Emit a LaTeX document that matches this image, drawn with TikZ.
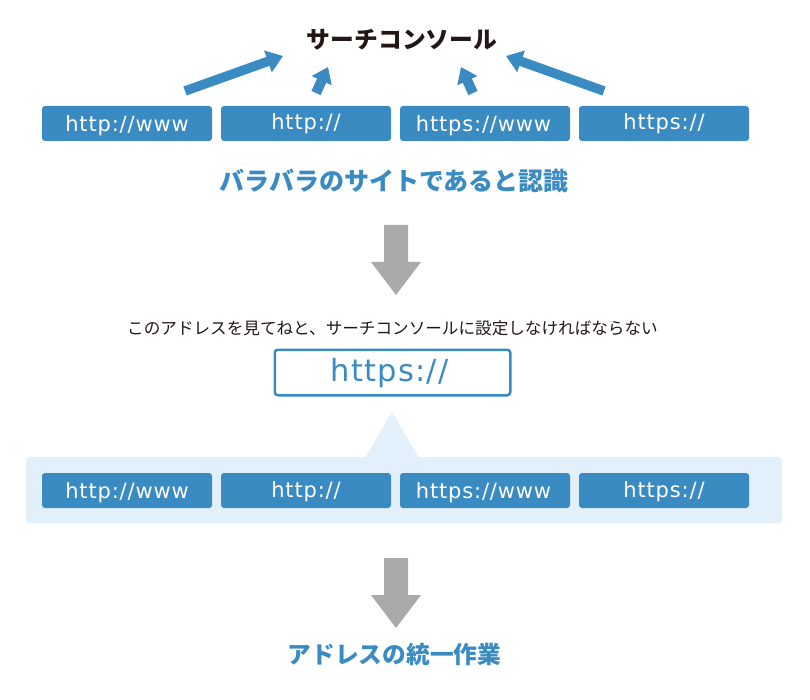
\documentclass[tikz,border=0pt]{standalone}
\usepackage{fontspec}
\setmainfont{Noto Sans CJK JP}
\newfontfamily\urlfont[LetterSpace=4]{DejaVu Sans}
\usetikzlibrary{arrows.meta}
\definecolor{bl}{HTML}{3A8BC2}
\definecolor{lb}{HTML}{E1F0FA}
\definecolor{gr}{HTML}{AAAAAA}
\definecolor{ink}{HTML}{231815}
\newcommand{\lowtxt}[1]{\raisebox{-1.5pt}{#1}}
\tikzset{
 urlbox/.style={fill=bl,rounded corners=3pt,minimum width=170pt,minimum height=35pt,inner sep=0pt,text=white,text height=18pt,text depth=5pt,font=\urlfont\fontsize{21}{24}\selectfont},
 fatarrow/.style={draw=bl,line width=9.5pt,-{Triangle[length=16pt,width=22pt]}},
 shortarrow/.style={draw=bl,line width=10pt,-{Triangle[length=15pt,width=21pt]}},
 bigarrow/.style={fill=gr,draw=none},
 head/.style={inner sep=0pt,text=bl,font=\bfseries\fontsize{25}{28}\selectfont},
}
\begin{document}
\begin{tikzpicture}[x=1pt,y=-1pt]
\useasboundingbox (0,0) rectangle (810,700);
\fill[white] (0,0) rectangle (810,700);
\node[inner sep=0pt,text=ink,font=\bfseries\fontsize{23.8}{28}\selectfont] (title) at (402,40) {サーチコンソール};
\node[urlbox] (a1) at (127,123.5) {\lowtxt{http://www}};
\node[urlbox] (a2) at (306,123.5) {http://};
\node[urlbox] (a3) at (485,123.5) {\lowtxt{https://www}\hspace*{3pt}};
\node[urlbox] (a4) at (664,123.5) {https://};
\coordinate (t1) at (185,91); \coordinate (h1) at (283,56);
\coordinate (t2) at (316,93); \coordinate (h2) at (328,67);
\coordinate (t3) at (473,93); \coordinate (h3) at (461,67);
\coordinate (t4) at (604,91); \coordinate (h4) at (506,56);
\draw[fatarrow] (t1) -- (h1);
\draw[shortarrow] (t2) -- (h2);
\draw[shortarrow] (t3) -- (h3);
\draw[fatarrow] (t4) -- (h4);
\node[head] (n1) at (394,181.5) {バラバラのサイトであると認識};
\fill[bigarrow] (384,225) -- (408,225) -- (408,262) -- (421,262) -- (396,295) -- (371,262) -- (384,262) -- cycle;
\node[inner sep=0pt,text=ink,font=\fontsize{16.6}{20}\selectfont] (n2) at (392.5,328) {このアドレスを見てねと、サーチコンソールに設定しなければならない};
\node[draw=bl,line width=2.5pt,fill=white,rounded corners=3pt,minimum width=235.5pt,minimum height=45.5pt,inner sep=0pt,text=bl,text height=24pt,text depth=5.6pt,font=\urlfont\fontsize{30.5}{34}\selectfont] (u) at (392.5,372.5) {https://\hspace*{6pt}};
\fill[lb,rounded corners=3pt] (26,457) rectangle (782,523);
\fill[lb] (365,458) -- (392,412) -- (419,458) -- cycle;
\node[urlbox] (b1) at (127,490.5) {\lowtxt{http://www}};
\node[urlbox] (b2) at (306,490.5) {http://};
\node[urlbox] (b3) at (485,490.5) {\lowtxt{https://www}\hspace*{3pt}};
\node[urlbox] (b4) at (664,490.5) {https://};
\fill[bigarrow] (384,558) -- (408,558) -- (408,595) -- (421,595) -- (396,628) -- (371,595) -- (384,595) -- cycle;
\node[head,font=\bfseries\fontsize{23.7}{28}\selectfont] (n3) at (394.5,654.5) {アドレスの統一作業};
\end{tikzpicture}
\end{document}
